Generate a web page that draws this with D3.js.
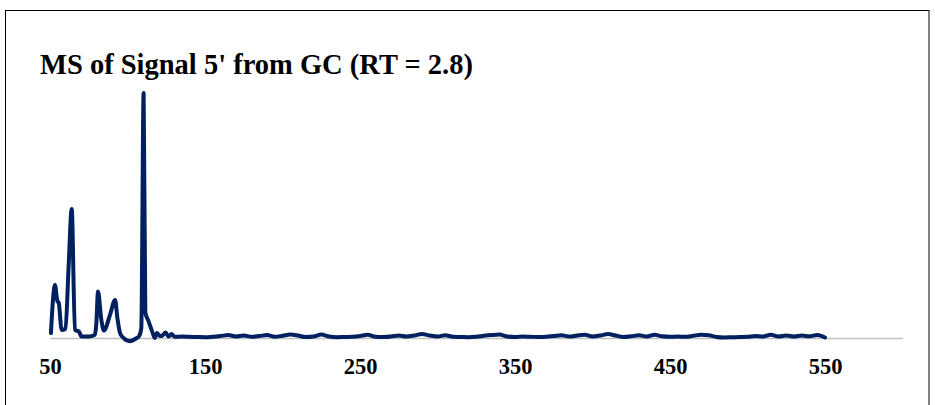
<!DOCTYPE html>
<html>
<head>
<meta charset="utf-8">
<script src="https://cdn.jsdelivr.net/npm/d3@7/dist/d3.min.js"></script>
<style>
  html, body { margin: 0; padding: 0; background: #fff; }
  svg { display: block; }
</style>
</head>
<body>
<svg id="chart" width="935" height="405"></svg>
<script>
// ---- data (m/z vs relative intensity) ----
const title = "MS of Signal 5' from GC (RT = 2.8)";
const tickValues = [50, 150, 250, 350, 450, 550];

const peakMz = [50.6, 53.2, 54.8, 55.6, 57.5, 60, 62, 64, 66.1, 68.7, 70.3, 75, 78.8, 79.8, 81, 83, 84.8,
  88.5, 92, 93.5, 95.2, 97, 101.5, 105.5, 107.5, 108.9, 110.4, 111.5, 113.5, 116, 117.6, 119, 121, 122.5,
  124.6, 126.5, 128.4, 130.5];
const peakVal = [2.0, 21.6, 15, 14.5, 3.3, 3.8, 29, 52.7, 3.3, 2.6, 0.6, 0.6, 1.2, 5, 19, 8, 3,
  9, 15.5, 8, 2, 0.3, -1.3, -0.2, 0.8, 4, 100, 10.5, 7, 2.5, 0, 2, 0.8, 1,
  2.2, 0.6, 1.6, 0.5];

const noiseMz = [135, 140, 145, 150, 155, 160, 165, 170, 175, 180, 185, 190, 195, 200, 205, 210, 215, 220,
  225, 230, 235, 240, 245, 250, 255, 260, 265, 270, 275, 280, 285, 290, 295, 300, 305, 310, 315, 320, 325,
  330, 335, 340, 345, 350, 355, 360, 365, 370, 375, 380, 385, 390, 395, 400, 405, 410, 415, 420, 425, 430,
  435, 440, 445, 450, 455, 460, 465, 470, 475, 480, 485, 490, 495, 500, 505, 510, 515, 520, 525, 530, 535,
  540, 545, 550];
const noiseVal = [0.6, 0.5, 0.4, 0.3, 0.5, 0.8, 1.2, 0.6, 1.0, 0.5, 0.8, 1.2, 0.5, 0.9, 1.4, 1.0, 0.4, 0.6,
  1.4, 0.6, 0.3, 0.4, 0.5, 0.8, 1.3, 0.5, 0.4, 0.6, 1.0, 0.6, 1.0, 1.6, 1.0, 0.6, 1.1, 0.5, 0.4, 0.3, 0.5,
  0.9, 1.2, 1.4, 0.6, 0.4, 0.6, 0.5, 0.4, 0.5, 0.8, 1.1, 0.6, 1.0, 1.3, 0.6, 1.0, 1.6, 1.0, 0.4, 0.7, 1.1,
  0.6, 1.3, 0.7, 0.5, 0.6, 0.5, 0.9, 1.3, 1.1, 0.4, 0.2, 0.3, 0.4, 0.5, 0.8, 0.6, 1.3, 0.6, 1.0, 0.6, 1.0,
  0.7, 1.2, 0.2];

const data = peakMz.map((m, i) => ({ mz: m, v: peakVal[i] }))
  .concat(noiseMz.map((m, i) => ({ mz: m, v: noiseVal[i] })));

// ---- layout ----
const svg = d3.select("#chart");
const x = d3.scaleLinear().domain([50, 600]).range([50, 902.5]);
const y = d3.scaleLinear().domain([0, 100]).range([338, 93]);

// frame
svg.append("rect")
  .attr("x", 5.5).attr("y", 10.5)
  .attr("width", 923.5).attr("height", 400)
  .attr("fill", "none").attr("stroke", "#000").attr("stroke-width", 1);

// title
svg.append("text")
  .attr("x", 40).attr("y", 74)
  .attr("font-family", "'Liberation Serif', 'Times New Roman', serif")
  .attr("font-weight", "bold")
  .attr("font-size", 28.5)
  .attr("fill", "#000")
  .text(title);

// x axis
const xAxis = d3.axisBottom(x).tickValues(tickValues).tickSize(0).tickPadding(0).tickFormat(d3.format("d"));
const gx = svg.append("g").attr("transform", `translate(0,${y(0)})`).call(xAxis);
gx.select(".domain").attr("stroke", "#bfbfbf").attr("stroke-width", 1.5);
gx.selectAll("text")
  .attr("dy", null)
  .attr("y", 36)
  .attr("font-family", "'Liberation Serif', 'Times New Roman', serif")
  .attr("font-weight", "bold")
  .attr("font-size", 22.5)
  .attr("fill", "#000");

// spectrum line
const line = d3.line()
  .x(d => x(d.mz))
  .y(d => y(d.v))
  .curve(d3.curveMonotoneX);

svg.append("path")
  .datum(data)
  .attr("d", line)
  .attr("fill", "none")
  .attr("stroke", "#002060")
  .attr("stroke-width", 4)
  .attr("stroke-linejoin", "round")
  .attr("stroke-linecap", "round");
</script>
</body>
</html>
